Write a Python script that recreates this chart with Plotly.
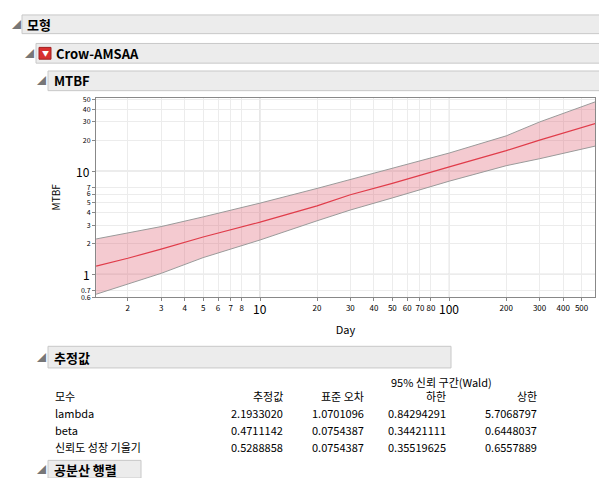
import plotly.graph_objects as go

W, H = 607, 478
FONT = "Noto Sans CJK KR, Noto Sans, sans-serif"

# curve
day = [1.36, 2, 3, 5, 10, 20, 30, 50, 100, 200, 300, 590]
mtbf = [1.2, 1.43, 1.75, 2.3, 3.2, 4.6, 5.9, 7.6, 11, 15.8, 20, 29]
upper = [2.2, 2.5, 2.9, 3.6, 4.9, 6.8, 8.3, 10.6, 15, 22, 30, 47]
lower = [0.64, 0.8, 1.02, 1.45, 2.15, 3.3, 4.2, 5.5, 8, 11.3, 13.2, 17.5]

x_ticks = [2, 3, 4, 5, 6, 7, 8, 10, 20, 30, 40, 50, 60, 70, 80, 100, 200, 300, 400, 500]
y_ticks = [0.6, 0.7, 1, 2, 3, 4, 5, 6, 7, 10, 20, 30, 40, 50]
big_x = [10, 100]
big_y = [1, 10]

col_heads = ["추정값", "표준 오차", "하한", "상한"]
params = ["lambda", "beta", "신뢰도 성장 기울기"]
est = ["2.1933020", "0.4711142", "0.5288858"]
se = ["1.0701096", "0.0754387", "0.0754387"]
lo = ["0.84294291", "0.34421111", "0.35519625"]
hi = ["5.7068797", "0.6448037", "0.6557889"]

X0, X1, Y0, Y1 = 88, 587, 87, 290
XR = [0.133, 2.77]
YR = [-0.222, 1.714]


def px(x):
    return x / W


def py(y):
    return 1 - y / H


def ann(x, y, text, anchor="left", size=11, color="black"):
    return dict(x=px(x), y=py(y), xref="paper", yref="paper", text=text, showarrow=False,
                xanchor=anchor, yanchor="middle", font=dict(family=FONT, size=size, color=color))


fig = go.Figure()
fig.add_trace(go.Scatter(x=day, y=upper, mode="lines", line=dict(color="#9a9a9a", width=1),
                         hoverinfo="skip", showlegend=False))
fig.add_trace(go.Scatter(x=day, y=lower, mode="lines", line=dict(color="#9a9a9a", width=1),
                         fill="tonexty", fillcolor="rgba(220,80,100,0.3)",
                         hoverinfo="skip", showlegend=False))
fig.add_trace(go.Scatter(x=day, y=mtbf, mode="lines", line=dict(color="#e03c4a", width=1.2),
                         showlegend=False))

shapes = []
anns = []


def header(x0, x1, y0, y1, tri_x, text, tx, size=13):
    shapes.append(dict(type="rect", xref="paper", yref="paper", x0=px(x0), x1=px(x1),
                       y0=py(y1), y1=py(y0), fillcolor="#ececec",
                       line=dict(color="#c8c8c8", width=1), layer="below"))
    anns.append(ann(tri_x, (y0 + y1) / 2, "◢", size=9, color="#777"))
    anns.append(ann(tx, (y0 + y1) / 2, "<b>%s</b>" % text, size=size))


header(14, 604, 3, 22, 2, "모형", 17)
header(28, 604, 32, 52, 15, "Crow-AMSAA", 46)
shapes.append(dict(type="rect", xref="paper", yref="paper", x0=px(31), x1=px(43),
                   y0=py(48), y1=py(36), fillcolor="#d83030", line=dict(color="#a02020", width=1)))
anns.append(ann(37, 42, "▼", anchor="center", size=7, color="white"))
header(40, 604, 60, 80, 27, "MTBF", 44)
header(40, 443, 340, 362, 27, "추정값", 44)
header(40, 133, 456, 474, 27, "공분산 행렬", 44)

# estimates table
right_x = [277, 358, 440, 531]
anns.append(ann(486, 376, "95% 신뢰 구간(Wald)", anchor="right"))
anns.append(ann(45, 391, "모수"))
for rx, h in zip(right_x, col_heads):
    anns.append(ann(rx, 391, h, anchor="right"))
for i, p in enumerate(params):
    yy = 408 + 17 * i
    anns.append(ann(45, yy, p))
    for rx, col in zip(right_x, [est, se, lo, hi]):
        anns.append(ann(rx, yy, col[i], anchor="right"))


def xpix(v):
    import math
    return X0 + (math.log10(v) - XR[0]) / (XR[1] - XR[0]) * (X1 - X0)


def ypix(v):
    import math
    return Y1 - (math.log10(v) - YR[0]) / (YR[1] - YR[0]) * (Y1 - Y0)


for v in big_x:
    xp = xpix(v)
    shapes.append(dict(type="line", xref="paper", yref="paper", x0=px(xp), x1=px(xp),
                       y0=py(Y1), y1=py(Y0), line=dict(color="#c8c8c8", width=1), layer="below"))
    anns.append(ann(xp, Y1 + 12, str(v), anchor="center", size=12))
for v in big_y:
    yp = ypix(v)
    shapes.append(dict(type="line", xref="paper", yref="paper", x0=px(X0), x1=px(X1),
                       y0=py(yp), y1=py(yp), line=dict(color="#c8c8c8", width=1), layer="below"))
    anns.append(ann(X0 - 4, yp, str(v), anchor="right", size=12))

fig.update_layout(
    width=W, height=H, margin=dict(l=0, r=0, t=0, b=0),
    paper_bgcolor="white", plot_bgcolor="white",
    font=dict(family=FONT, size=11, color="black"),
    shapes=shapes, annotations=anns,
    xaxis=dict(type="log", domain=[px(X0), px(X1)], range=XR,
               tickvals=x_ticks, ticktext=["" if v in big_x else str(v) for v in x_ticks],
               tickangle=0, tickfont=dict(size=8), gridcolor="#ececec", showline=True,
               linecolor="#888", mirror=True, ticks="outside", ticklen=3, tickcolor="#888",
               title=dict(text="Day", font=dict(size=11), standoff=14)),
    yaxis=dict(type="log", domain=[py(Y1), py(Y0)], range=YR,
               tickvals=y_ticks, ticktext=["" if v in big_y else str(v) for v in y_ticks],
               tickfont=dict(size=7), gridcolor="#ececec", showline=True, linecolor="#888",
               mirror=True, ticks="outside", ticklen=3, tickcolor="#888",
               title=dict(text="MTBF", font=dict(size=10), standoff=18)),
)
fig.write_html("out.html")
